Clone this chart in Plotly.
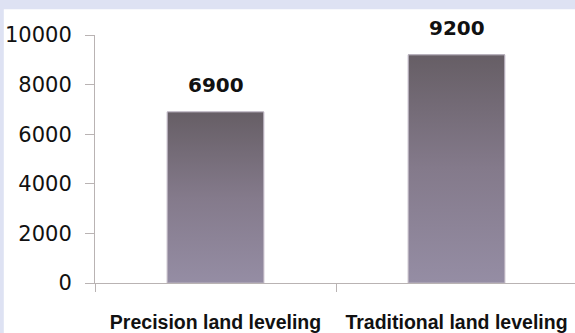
import plotly.graph_objects as go

categories = ["Precision land leveling", "Traditional land leveling"]
values = [6900, 9200]
y_ticks = [0, 2000, 4000, 6000, 8000, 10000]
y_tick_labels = ["0", "2000", "4000", "6000", "8000", "10000"]

BAR_W = 0.4
xs = list(range(len(categories)))

fig = go.Figure()

# base bars
fig.add_trace(go.Bar(
    x=xs, y=values, width=BAR_W,
    marker=dict(color="#857b8c", line=dict(color="#bdb6c2", width=1)),
    hoverinfo="skip", showlegend=False,
))

# gradient overlay per bar (derived from data)
for i, v in zip(xs, values):
    fig.add_trace(go.Scatter(
        x=[i - BAR_W / 2, i + BAR_W / 2, i + BAR_W / 2, i - BAR_W / 2, i - BAR_W / 2],
        y=[0, 0, v, v, 0],
        mode="lines", fill="toself",
        fillgradient=dict(type="vertical",
                          colorscale=[[0, "#958da4"], [0.5, "#847a8b"], [1, "#665e65"]]),
        line=dict(color="#bdb6c2", width=1),
        hoverinfo="skip", showlegend=False,
    ))

for i, v in zip(xs, values):
    fig.add_annotation(x=i, y=v, text=f"<b>{v}</b>", showarrow=False,
                       yanchor="bottom", yshift=13,
                       font=dict(family="DejaVu Sans", size=20, color="#111111"))

fig.add_shape(type="rect", xref="paper", yref="paper",
              x0=-0.19, x1=1.05, y0=-0.4, y1=1.104,
              fillcolor="white", line=dict(width=0), layer="below")

fig.update_layout(
    width=575, height=333,
    margin=dict(l=95, r=0, t=35, b=48),
    paper_bgcolor="#dee2f3", plot_bgcolor="white",
    bargap=0.6,
    xaxis=dict(
        range=[-0.5, 1.5 - 2 / 241],
        tickvals=xs, ticktext=[f"<b>{c}</b>" for c in categories],
        ticks="", showgrid=False, zeroline=False,
        showline=True, linecolor="#b9b3b3", linewidth=1,
        tickfont=dict(family="Liberation Sans", size=19.5, color="#111111"),
        ticklabelstandoff=22,
        minor=dict(tickvals=[-0.5, 0.5, 1.5], ticks="outside", ticklen=8,
                   tickcolor="#b9b3b3", tickwidth=1, showgrid=False),
    ),
    yaxis=dict(
        range=[0, 10000], tickvals=y_ticks, ticktext=y_tick_labels,
        ticks="outside", ticklen=9, tickcolor="#b9b3b3", tickwidth=1,
        showgrid=False, zeroline=False,
        showline=True, linecolor="#b9b3b3", linewidth=1,
        tickfont=dict(family="DejaVu Sans", size=21, color="#111111"),
        ticklabelstandoff=9,
    ),
)

fig.write_html("out.html")
